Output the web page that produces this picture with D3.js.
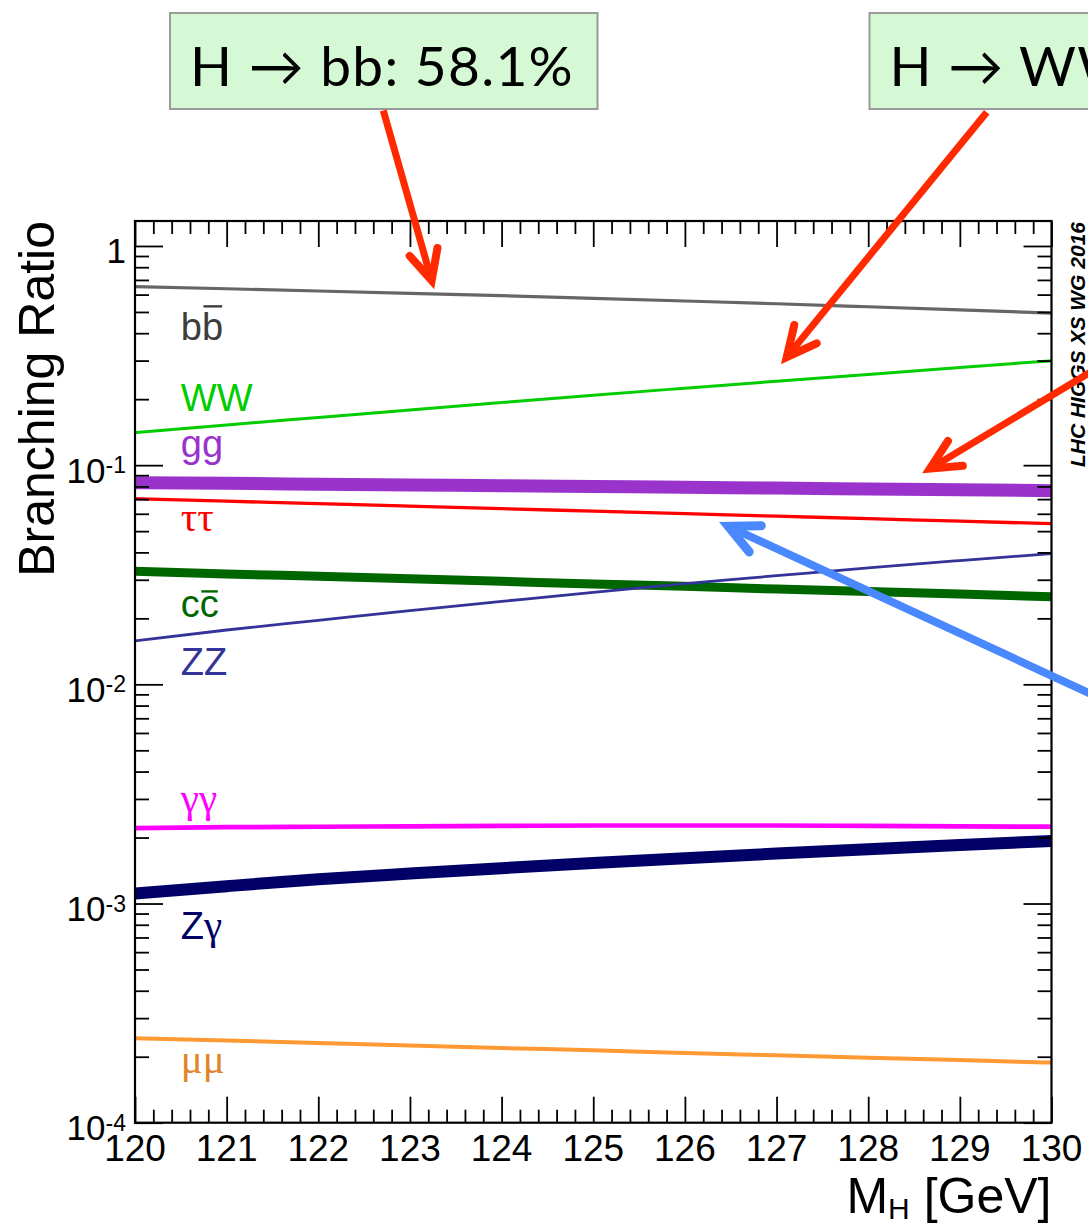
<!DOCTYPE html>
<html><head><meta charset="utf-8">
<script src="https://cdn.jsdelivr.net/npm/d3@7"></script>
<style>body{margin:0;background:#fff}svg{display:block}</style>
</head><body>
<svg id="chart" width="1088" height="1223"></svg>
<script>
// ---------------- data ----------------
const masses = [120,121,122,123,124,125,126,127,128,129,130];
const br_bb     = [0.653,0.638,0.623,0.608,0.593,0.577,0.561,0.545,0.528,0.511,0.494];
const br_WW     = [0.1406,0.1525,0.1650,0.1785,0.1930,0.2085,0.2245,0.2415,0.2595,0.2790,0.2995];
const br_gg     = [0.0832,0.0826,0.0819,0.0812,0.0806,0.0799,0.0792,0.0786,0.0779,0.0772,0.0765];
const br_tautau = [0.0703,0.0685,0.0667,0.0650,0.0633,0.0617,0.0601,0.0585,0.0570,0.0555,0.0541];
const br_cc     = [0.0328,0.0319,0.0311,0.0303,0.0295,0.0287,0.0280,0.0272,0.0265,0.0258,0.0251];
const br_ZZ     = [0.0158,0.0177,0.0196,0.0217,0.0239,0.0263,0.0288,0.0313,0.0340,0.0367,0.0395];
const br_gamgam = [0.00221,0.00223,0.00224,0.00225,0.00226,0.00227,0.00227,0.00227,0.00226,0.00225,0.00224];
const br_Zgam   = [0.00111,0.00120,0.00129,0.00137,0.00145,0.00153,0.00161,0.00169,0.00177,0.00185,0.00193];
const br_mumu   = [0.000243,0.000237,0.000231,0.000225,0.000219,0.000214,0.000208,0.000203,0.000198,0.000193,0.000188];

const channels = ["bb","WW","gg","tautau","cc","ZZ","gamgam","Zgam","mumu"];
const channelValues = [br_bb,br_WW,br_gg,br_tautau,br_cc,br_ZZ,br_gamgam,br_Zgam,br_mumu];
// label anchor (data coords: mass, branching ratio at baseline)
const labelMass = [120.5,120.5,120.5,120.5,120.5,120.5,120.5,120.5,120.5];
const labelBR   = [0.371,0.176,0.1085,0.0499,0.0202,0.0110,0.00261,0.000688,0.0001685];

const xTicks = [120,121,122,123,124,125,126,127,128,129,130];
const xTickLabels = ["120","121","122","123","124","125","126","127","128","129","130"];
const yTicks = [1e-4,1e-3,1e-2,1e-1,1];
const yTickBase = ["10","10","10","10","1"];
const yTickExp  = ["-4","-3","-2","-1",""];

const boxTexts = ["H \u2192 bb: 58.1%","H \u2192 WW: 21.5%"];
// arrows in data coords [mass, BR]
const arrowFrom = [[122.709,4.147],[129.293,4.075],[130.638,0.3005],[130.638,0.008243]];
const arrowTo   = [[123.237,0.6963],[127.111,0.3111],[128.674,0.09638],[126.474,0.05259]];

// ---------------- style ----------------
const style = {
  bb:{c:"#666666",w:3.2,lc:"#3d3d3d"}, WW:{c:"#00cc00",w:3,lc:"#00cc00"},
  gg:{c:"#9933cc",w:13,lc:"#9933cc"}, tautau:{c:"#ff0000",w:3.3,lc:"#ff0000"},
  cc:{c:"#006600",w:9,lc:"#006600"}, ZZ:{c:"#333399",w:2.8,lc:"#333399"},
  gamgam:{c:"#ff00ff",w:4.7,lc:"#ff00ff"}, Zgam:{c:"#000066",w:12,lc:"#000066"},
  mumu:{c:"#ff9933",w:4,lc:"#e0862a"}
};
const arrowColors = ["#ff2a00","#ff2a00","#ff2a00","#4a88ff"];
const arrowWidths = [7,7,7,8];
const SANS = "'Liberation Sans', Arial, Helvetica, sans-serif";
const SERIF = "'Liberation Serif', 'Times New Roman', serif";

const svg = d3.select("#chart");
const P = {left:135, right:1051.5, top:221, bottom:1122.7};
const x = d3.scaleLinear().domain([120,130]).range([P.left,P.right]);
const y = d3.scaleLog().domain([1e-4,1.3]).range([P.bottom,P.top]);

svg.append("clipPath").attr("id","clip").append("rect")
  .attr("x",P.left).attr("y",P.top).attr("width",P.right-P.left).attr("height",P.bottom-P.top);

// ---------------- lines ----------------
const line = d3.line().x((d,i)=>x(masses[i])).y(d=>y(d)).curve(d3.curveMonotoneX);
const gl = svg.append("g").attr("clip-path","url(#clip)");
channels.forEach((ch,k)=>{
  gl.append("path").datum(channelValues[k]).attr("d",line)
    .attr("fill","none").attr("stroke",style[ch].c).attr("stroke-width",style[ch].w);
});

// ---------------- series labels ----------------
const lab = svg.append("g");
function addLabel(k, parts, barIndex, barRise){
  const ch = channels[k];
  const bx = x(labelMass[k]), by = y(labelBR[k]);
  const t = lab.append("text").attr("x",bx).attr("y",by)
    .attr("fill",style[ch].lc).attr("font-size",38).attr("font-family",SANS);
  parts.forEach(p=>{
    const s = t.append("tspan").text(p.t);
    if(p.serif) s.attr("font-family",SERIF).attr("font-size",41);
  });
  if(barIndex!==undefined){
    const n = t.node();
    const s = n.getStartPositionOfChar(barIndex).x, e = n.getEndPositionOfChar(barIndex).x;
    lab.append("line").attr("x1",s+1.5).attr("x2",e-1).attr("y1",by-barRise).attr("y2",by-barRise)
      .attr("stroke",style[ch].lc).attr("stroke-width",2.4);
  }
}
addLabel(0,[{t:"bb"}],1,34);
addLabel(1,[{t:"WW"}]);
addLabel(2,[{t:"gg"}]);
addLabel(3,[{t:"\u03C4\u03C4",serif:true}]);
addLabel(4,[{t:"cc"}],1,26);
addLabel(5,[{t:"ZZ"}]);
addLabel(6,[{t:"\u03B3\u03B3",serif:true}]);
addLabel(7,[{t:"Z"},{t:"\u03B3",serif:true}]);
addLabel(8,[{t:"\u03BC\u03BC",serif:true}]);

// ---------------- axes ----------------
const minorY = [];
for(let e=-4;e<=0;e++) for(let m=2;m<=9;m++){ const v=m*Math.pow(10,e); if(v<=1.3) minorY.push(v); }
const minorX = d3.range(0,51).map(i=>120+i*0.2).filter(v=>Math.abs(v-Math.round(v))>1e-6);

function styleAxis(g){ g.select(".domain").remove(); g.selectAll("line").attr("stroke","#000").attr("stroke-width",1.8); g.selectAll("text").remove(); }
svg.append("g").attr("transform",`translate(${P.left},0)`).call(d3.axisRight(y).tickValues(yTicks).tickSize(28).tickFormat("")).call(styleAxis);
svg.append("g").attr("transform",`translate(${P.left},0)`).call(d3.axisRight(y).tickValues(minorY).tickSize(14).tickFormat("")).call(styleAxis);
svg.append("g").attr("transform",`translate(${P.right},0)`).call(d3.axisLeft(y).tickValues(yTicks).tickSize(28).tickFormat("")).call(styleAxis);
svg.append("g").attr("transform",`translate(${P.right},0)`).call(d3.axisLeft(y).tickValues(minorY).tickSize(14).tickFormat("")).call(styleAxis);
svg.append("g").attr("transform",`translate(0,${P.bottom})`).call(d3.axisTop(x).tickValues(xTicks).tickSize(26).tickFormat("")).call(styleAxis);
svg.append("g").attr("transform",`translate(0,${P.bottom})`).call(d3.axisTop(x).tickValues(minorX).tickSize(13).tickFormat("")).call(styleAxis);
svg.append("g").attr("transform",`translate(0,${P.top})`).call(d3.axisBottom(x).tickValues(xTicks).tickSize(26).tickFormat("")).call(styleAxis);
svg.append("g").attr("transform",`translate(0,${P.top})`).call(d3.axisBottom(x).tickValues(minorX).tickSize(13).tickFormat("")).call(styleAxis);

svg.append("rect").attr("x",P.left).attr("y",P.top).attr("width",P.right-P.left).attr("height",P.bottom-P.top)
  .attr("fill","none").attr("stroke","#000").attr("stroke-width",2.2);

// tick labels
xTicks.forEach((v,i)=>{
  svg.append("text").attr("x",x(v)).attr("y",P.bottom+38).attr("text-anchor","middle")
    .attr("font-size",37).attr("font-family",SANS).attr("fill","#000").text(xTickLabels[i]);
});
yTicks.forEach((v,i)=>{
  const t = svg.append("text").attr("x",P.left-9).attr("y",y(v)+17.5).attr("text-anchor","end")
    .attr("font-size",35).attr("font-family",SANS).attr("fill","#000");
  t.append("tspan").text(yTickBase[i]);
  if(yTickExp[i]) t.append("tspan").attr("font-size",23).attr("dy",-9.5).text(yTickExp[i]);
});

// axis titles
const xt = svg.append("text").attr("x",P.right).attr("y",1213).attr("text-anchor","end")
  .attr("font-size",50).attr("font-family",SANS).attr("fill","#000");
xt.append("tspan").text("M");
xt.append("tspan").attr("font-size",30).attr("dy",6).text("H");
xt.append("tspan").attr("dy",-6).text(" [GeV]");

svg.append("text").attr("transform",`translate(54,${P.top}) rotate(-90)`).attr("text-anchor","end")
  .attr("font-size",50).attr("font-family",SANS).attr("fill","#000").text("Branching Ratio");

svg.append("text").attr("transform",`translate(1085,${P.top+1}) rotate(-90)`).attr("text-anchor","end")
  .attr("font-size",21).attr("font-weight","bold").attr("font-style","italic")
  .attr("font-family",SANS).attr("fill","#000").text("LHC HIGGS XS WG 2016");

// ---------------- annotation boxes ----------------
const boxX = [170, 869.5];
const bxg = svg.append("g");
const boxTextEls = [];
boxTexts.forEach((s,i)=>{
  bxg.append("rect").attr("x",boxX[i]).attr("y",13).attr("width",i===0?427.5:400).attr("height",96)
    .attr("fill","#d4f9d4").attr("stroke","#9a9a9a").attr("stroke-width",2);
  boxTextEls.push(bxg.append("text").attr("x",boxX[i]+20).attr("y",86)
    .attr("font-size",55).attr("font-family","Lato, 'Open Sans', sans-serif").attr("fill","#000").text(s));
});
const L0 = boxTextEls[0].node().getComputedTextLength();
const ls = (384 - L0)/(boxTexts[0].length);
boxTextEls.forEach(t=>t.attr("letter-spacing",ls));

// ---------------- arrows ----------------
const ar = svg.append("g");
arrowFrom.forEach((f,i)=>{
  const x0=x(f[0]), y0=y(f[1]), x1=x(arrowTo[i][0]), y1=y(arrowTo[i][1]);
  const ang = Math.atan2(y0-y1, x0-x1), L=33, a=26*Math.PI/180;
  const p1=[x1+L*Math.cos(ang+a), y1+L*Math.sin(ang+a)], p2=[x1+L*Math.cos(ang-a), y1+L*Math.sin(ang-a)];
  ar.append("path").attr("d",`M${x0},${y0}L${x1},${y1}`).attr("stroke",arrowColors[i])
    .attr("stroke-width",arrowWidths[i]).attr("fill","none").attr("stroke-linecap","butt");
  ar.append("path").attr("d",`M${p1[0]},${p1[1]}L${x1},${y1}L${p2[0]},${p2[1]}`).attr("stroke",arrowColors[i])
    .attr("stroke-width",arrowWidths[i]+1).attr("fill","none").attr("stroke-linecap","round").attr("stroke-linejoin","miter");
});
</script>
</body></html>
